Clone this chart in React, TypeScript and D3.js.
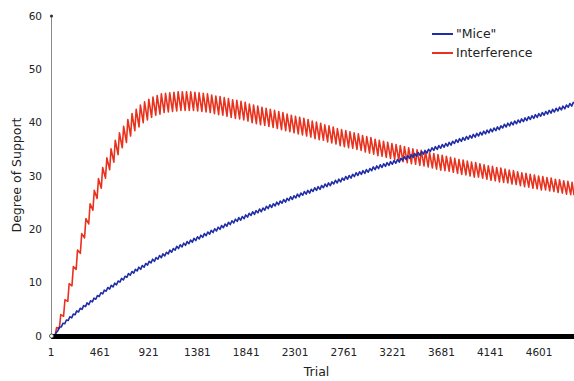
import React from "react";
import * as d3 from "d3";

// Trial axis ticks and degree-of-support ticks
const xTickValues = [1, 461, 921, 1381, 1841, 2301, 2761, 3221, 3681, 4141, 4601];
const yTickValues = [0, 10, 20, 30, 40, 50, 60];
const lastTrial = 4930;

// "Mice": one step per block of trials; value at the block start and at its top
const miceBlock = 32.5;
const miceLow = [
  0, 0, 1.0, 1.7, 2.3, 2.9, 3.4, 4.0, 4.5, 5.0,
  5.5, 5.9, 6.4, 6.9, 7.4, 7.9, 8.4, 8.8, 9.2, 9.6,
  10.1, 10.5, 11.0, 11.4, 11.8, 12.2, 12.5, 12.9, 13.3, 13.7,
  14.0, 14.4, 14.7, 15.0, 15.4, 15.7, 16.1, 16.4, 16.7, 17.0,
  17.3, 17.6, 17.9, 18.2, 18.5, 18.8, 19.1, 19.4, 19.7, 20.0,
  20.3, 20.6, 20.9, 21.2, 21.5, 21.7, 22.0, 22.3, 22.6, 22.8,
  23.1, 23.3, 23.6, 23.9, 24.1, 24.4, 24.6, 24.9, 25.1, 25.4,
  25.6, 25.9, 26.1, 26.4, 26.6, 26.8, 27.1, 27.3, 27.5, 27.8,
  28.0, 28.2, 28.5, 28.7, 28.9, 29.2, 29.4, 29.6, 29.9, 30.1,
  30.3, 30.5, 30.7, 31.0, 31.2, 31.4, 31.6, 31.8, 32.0, 32.2,
  32.4, 32.6, 32.9, 33.1, 33.3, 33.5, 33.7, 33.9, 34.1, 34.3,
  34.6, 34.8, 35.0, 35.2, 35.4, 35.6, 35.8, 36.1, 36.3, 36.5,
  36.7, 36.9, 37.1, 37.3, 37.5, 37.7, 37.9, 38.1, 38.3, 38.5,
  38.7, 39.0, 39.2, 39.4, 39.6, 39.8, 40.0, 40.2, 40.4, 40.6,
  40.8, 41.0, 41.2, 41.4, 41.6, 41.8, 42.0, 42.2, 42.4, 42.6,
  42.9, 43.1,
];
const miceHigh = [
  0, 0.6, 1.7, 2.4, 3.0, 3.6, 4.1, 4.7, 5.2, 5.7,
  6.2, 6.6, 7.1, 7.6, 8.1, 8.6, 9.1, 9.5, 9.9, 10.3,
  10.8, 11.2, 11.7, 12.1, 12.5, 12.9, 13.2, 13.6, 14.0, 14.4,
  14.7, 15.1, 15.4, 15.7, 16.1, 16.4, 16.8, 17.1, 17.4, 17.7,
  18.0, 18.3, 18.6, 18.9, 19.2, 19.5, 19.8, 20.1, 20.4, 20.7,
  21.0, 21.3, 21.6, 21.9, 22.2, 22.4, 22.7, 23.0, 23.3, 23.5,
  23.8, 24.0, 24.3, 24.6, 24.8, 25.1, 25.3, 25.6, 25.8, 26.1,
  26.3, 26.6, 26.8, 27.1, 27.3, 27.5, 27.8, 28.0, 28.2, 28.5,
  28.7, 28.9, 29.2, 29.4, 29.6, 29.9, 30.1, 30.3, 30.6, 30.8,
  31.0, 31.2, 31.4, 31.7, 31.9, 32.1, 32.3, 32.5, 32.7, 32.9,
  33.1, 33.3, 33.6, 33.8, 34.0, 34.2, 34.4, 34.6, 34.8, 35.0,
  35.3, 35.5, 35.7, 35.9, 36.1, 36.3, 36.5, 36.8, 37.0, 37.2,
  37.4, 37.6, 37.8, 38.0, 38.2, 38.4, 38.6, 38.8, 39.0, 39.2,
  39.4, 39.7, 39.9, 40.1, 40.3, 40.5, 40.7, 40.9, 41.1, 41.3,
  41.5, 41.7, 41.9, 42.1, 42.3, 42.5, 42.7, 42.9, 43.1, 43.3,
  43.6, 43.8,
];
const miceFinal = 43.6;

// Interference: rises at the start of each block, decays until the next one
const interferenceBlock = 39.5;
const interferenceTrough = [
  0, 0, 1.4, 3.7, 6.5, 9.4, 12.5, 15.5, 18.4, 21.0,
  23.6, 25.8, 27.7, 29.6, 31.2, 32.6, 34.0, 35.3, 36.3, 37.5,
  38.5, 39.2, 40.0, 40.5, 41.0, 41.4, 41.6, 41.9, 42.0, 42.1,
  42.2, 42.3, 42.3, 42.3, 42.3, 42.2, 42.1, 42.0, 41.9, 41.7,
  41.5, 41.4, 41.2, 41.0, 40.8, 40.7, 40.5, 40.3, 40.0, 39.8,
  39.6, 39.5, 39.3, 39.1, 38.9, 38.7, 38.5, 38.3, 38.1, 37.9,
  37.7, 37.5, 37.3, 37.0, 36.8, 36.7, 36.4, 36.2, 36.0, 35.7,
  35.5, 35.3, 35.2, 35.0, 34.8, 34.5, 34.3, 34.1, 33.8, 33.7,
  33.5, 33.3, 33.1, 32.9, 32.7, 32.5, 32.3, 32.2, 32.0, 31.9,
  31.7, 31.5, 31.3, 31.1, 31.0, 30.9, 30.7, 30.5, 30.3, 30.2,
  30.0, 29.8, 29.8, 29.6, 29.4, 29.2, 29.1, 28.9, 28.8, 28.7,
  28.5, 28.4, 28.2, 28.0, 27.9, 27.7, 27.6, 27.4, 27.4, 27.2,
  27.1, 26.9, 26.8, 26.6, 26.5,
];
const interferencePeak = [
  0, 1.6, 4.0, 6.8, 9.8, 13.0, 16.1, 19.2, 22.0, 24.8,
  27.3, 29.5, 31.6, 33.4, 35.1, 36.7, 38.1, 39.3, 40.6, 41.7,
  42.5, 43.3, 43.9, 44.4, 44.8, 45.1, 45.4, 45.5, 45.6, 45.7,
  45.8, 45.8, 45.8, 45.8, 45.7, 45.6, 45.5, 45.4, 45.2, 45.0,
  44.9, 44.7, 44.5, 44.3, 44.2, 44.0, 43.8, 43.5, 43.3, 43.1,
  42.9, 42.7, 42.5, 42.3, 42.1, 41.9, 41.6, 41.4, 41.2, 41.0,
  40.8, 40.6, 40.3, 40.1, 39.9, 39.6, 39.4, 39.2, 38.9, 38.7,
  38.5, 38.3, 38.1, 37.9, 37.6, 37.4, 37.2, 36.9, 36.7, 36.5,
  36.3, 36.1, 35.9, 35.7, 35.5, 35.3, 35.1, 34.9, 34.8, 34.6,
  34.4, 34.2, 34.0, 33.9, 33.7, 33.5, 33.3, 33.1, 33.0, 32.8,
  32.6, 32.5, 32.3, 32.1, 31.9, 31.8, 31.6, 31.5, 31.3, 31.1,
  31.0, 30.8, 30.6, 30.5, 30.3, 30.2, 30.0, 29.9, 29.7, 29.6,
  29.4, 29.3, 29.1, 29.0, 28.8,
];
const interferenceFinal = 26.4;

const seriesNames = ['"Mice"', "Interference"];
const seriesColors = ["#1f2ea6", "#e8321e"];

const W = 574;
const H = 381;
const FONT = "'DejaVu Sans', Verdana, sans-serif";

type Pt = [number, number];

// rise: number of trials a step takes to reach its top value
function stepPoints(low: number[], high: number[], block: number, rise: number, final: number): Pt[] {
  const pts: Pt[] = [];
  low.forEach((lo, k) => {
    const t = 1 + k * block;
    pts.push([t, lo]);
    pts.push([t + rise, high[k]]);
  });
  pts.push([lastTrial, final]);
  return pts;
}

export default function App() {
  const x = d3.scaleLinear().domain([1, lastTrial]).range([51, 574]);
  const y = d3.scaleLinear().domain([0, 60]).range([336, 16]);
  const line = d3
    .line<Pt>()
    .x((d) => x(d[0]))
    .y((d) => y(d[1]));

  const micePts = stepPoints(miceLow, miceHigh, miceBlock, 15, miceFinal);
  const interPts = stepPoints(interferenceTrough, interferencePeak, interferenceBlock, 13, interferenceFinal);

  const [x0, x1] = x.range();

  return (
    <svg
      width={W}
      height={H}
      style={{ position: "absolute", left: 0, top: 0, background: "#fff" }}
      fontFamily={FONT}
    >
      {/* y axis */}
      <line x1={x0 + 0.5} x2={x0 + 0.5} y1={y(60)} y2={y(0)} stroke="#8a8a8a" strokeWidth={1} />
      {yTickValues.map((v) => (
        <text key={v} x={42} y={y(v)} dy="0.35em" textAnchor="end" fontSize={10.5} fill="#222">
          {v}
        </text>
      ))}
      <circle cx={x0 + 0.5} cy={y(60)} r={1.6} fill="#333" />

      {/* series */}
      <path d={line(interPts) || ""} fill="none" stroke={seriesColors[1]} strokeWidth={1.6} strokeLinejoin="round" />
      <path d={line(micePts) || ""} fill="none" stroke={seriesColors[0]} strokeWidth={1.6} strokeLinejoin="round" />

      {/* x axis: dense trial ticks form a solid band */}
      <rect x={x0} y={y(0) - 2} width={x1 - x0} height={5} fill="#000" />
      <circle cx={x0 + 0.5} cy={y(0)} r={2} fill="#fff" stroke="#555" strokeWidth={1} />
      {xTickValues.map((v) => (
        <text key={v} x={x(v)} y={356} textAnchor="middle" fontSize={10.5} fill="#222">
          {v}
        </text>
      ))}

      {/* axis titles */}
      <text x={(x0 + x1) / 2 + 4} y={376} textAnchor="middle" fontSize={12.5} fill="#222">
        Trial
      </text>
      <text
        transform={`translate(21, ${(y(0) + y(60)) / 2 - 1}) rotate(-90)`}
        textAnchor="middle"
        fontSize={12.5}
        fill="#222"
      >
        Degree of Support
      </text>

      {/* legend */}
      {seriesNames.map((name, i) => (
        <g key={name} transform={`translate(432, ${34 + i * 19})`}>
          <line x1={0} x2={21} y1={0} y2={0} stroke={seriesColors[i]} strokeWidth={2} />
          <text x={24} y={0} dy="0.35em" fontSize={12.5} fill="#222">
            {name}
          </text>
        </g>
      ))}
    </svg>
  );
}
